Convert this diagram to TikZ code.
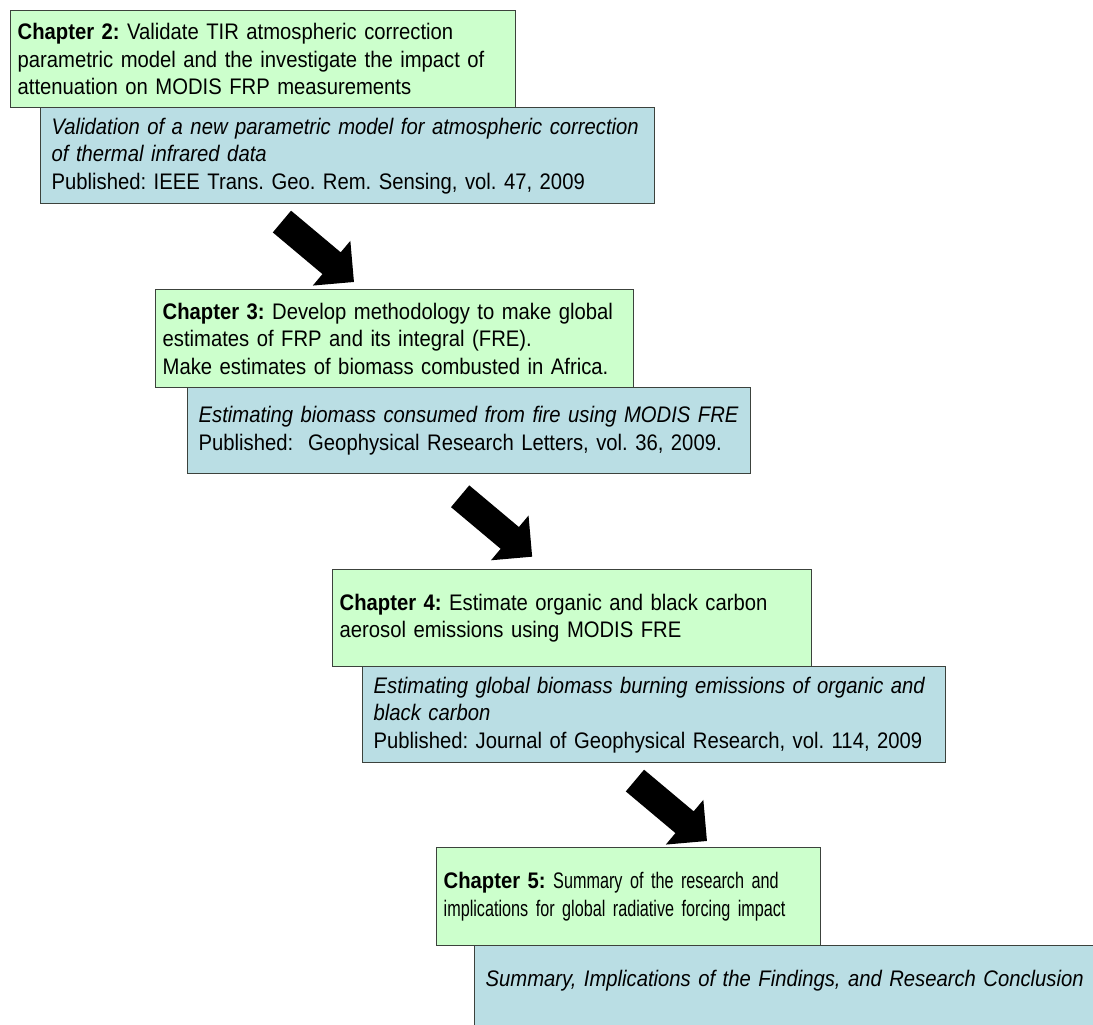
\documentclass[tikz,border=0pt]{standalone}
\usepackage{fontspec}
\setmainfont{Liberation Sans}[FakeStretch=0.9]
\newfontfamily\narrowsans{Liberation Sans}[FakeStretch=0.72]
\usepackage{tikz}
\usetikzlibrary{shapes.arrows,positioning}

\definecolor{chapgreen}{RGB}{204,255,204}
\definecolor{pubblue}{RGB}{186,222,228}
\definecolor{boxline}{RGB}{60,66,60}

\frenchspacing

\begin{document}
\begin{tikzpicture}[x=1pt, y=-1pt,
		chapbox/.style={draw=boxline, fill=chapgreen, line width=1.4pt, anchor=north west, inner xsep=7pt, inner ysep=0pt, align=left, font=\fontsize{22.5}{27.5}\selectfont},
		pubbox/.style={chapbox, fill=pubblue, inner xsep=11pt},
		bigarrow/.style={single arrow, fill=black, inner xsep=0pt, inner ysep=14pt, single arrow head extend=15pt, minimum height=94pt, rotate=-40}]

		\useasboundingbox (0,0) rectangle (1093,1025);
		\clip (0,0) rectangle (1093,1025);

		% chapter 2
		\node[chapbox, text width=491pt, minimum height=97pt] (ch2) at (10,10) {\textbf{Chapter 2:} Validate TIR atmospheric correction\\parametric model and the investigate the impact of\\attenuation on MODIS FRP measurements};
		\node[pubbox, text width=592pt, minimum height=96pt] (pub2) at (40,107) {\textit{Validation of a new parametric model for atmospheric correction}\\\textit{of thermal infrared data}\\Published: IEEE Trans. Geo. Rem. Sensing, vol. 47, 2009};

		% chapter 3
		\node[chapbox, text width=464pt, minimum height=98pt] (ch3) at (155,289) {\textbf{Chapter 3:} Develop methodology to make global\\estimates of FRP and its integral (FRE).\\Make estimates of biomass combusted in Africa.};
		\node[pubbox, text width=541pt, minimum height=86pt] (pub3) at (187,387) {\textit{Estimating biomass consumed from fire using MODIS FRE}\\Published:\ \ Geophysical Research Letters, vol. 36, 2009.};

		% chapter 4
		\node[chapbox, text width=465pt, minimum height=97pt] (ch4) at (332,569) {\textbf{Chapter 4:} Estimate organic and black carbon\\aerosol emissions using MODIS FRE};
		\node[pubbox, text width=561pt, minimum height=96pt] (pub4) at (362,666) {\textit{Estimating global biomass burning emissions of organic and}\\\textit{black carbon}\\Published: Journal of Geophysical Research, vol. 114, 2009};

		% chapter 5
		\node[chapbox, text width=370pt, minimum height=98pt] (ch5) at (436,847) {\textbf{Chapter 5:} {\narrowsans Summary of the research and}\\{\narrowsans implications for global radiative forcing impact}};
		\node[pubbox, text width=680pt, text height=41pt, text depth=100pt] (pub5) at (474,945) {\textit{Summary, Implications of the Findings, and Research Conclusion}};

		% arrows between the steps
		\node[bigarrow] (arr1) at (312.5,247.2) {};
		\node[bigarrow] (arr2) at (490.7,521.9) {};
		\node[bigarrow] (arr3) at (665.5,806.2) {};
	\end{tikzpicture}
\end{document}
